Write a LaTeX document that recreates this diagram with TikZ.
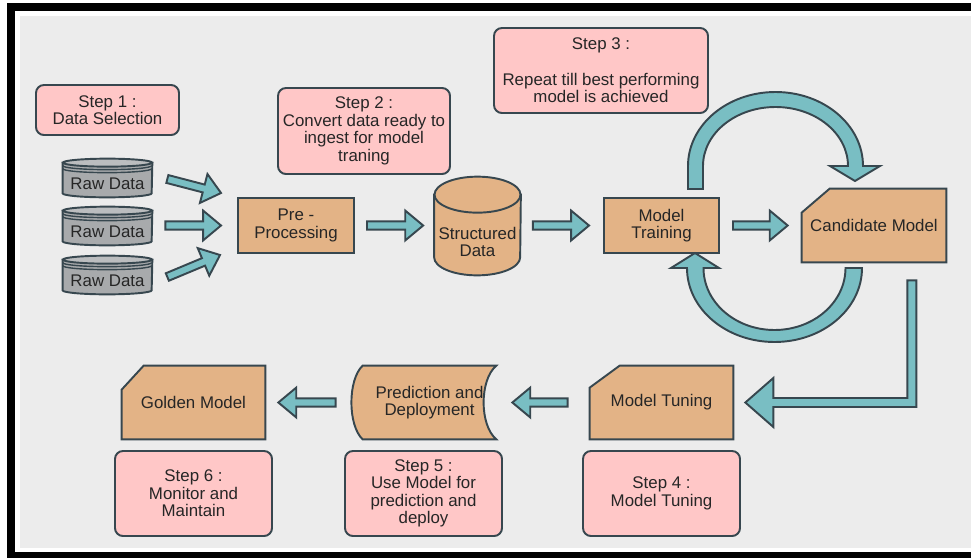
\documentclass[tikz,border=0pt]{standalone}
\usepackage{fontspec}
\setmainfont{Liberation Sans}
\usetikzlibrary{calc,positioning}
\pgfdeclarelayer{back}
\pgfsetlayers{back,main}
\definecolor{bgC}{HTML}{ECECEC}
\definecolor{lineC}{HTML}{37474F}
\definecolor{pinkC}{HTML}{FFC7C7}
\definecolor{tanC}{HTML}{E3B386}
\definecolor{tealC}{HTML}{79BEC3}
\definecolor{grayC}{HTML}{A8AAAC}
\definecolor{grayT}{HTML}{BBBDBF}
\definecolor{textC}{HTML}{262626}
\def\u{0.02cm}
\tikzset{
  every node/.style={font=\fontsize{9.6}{10}\selectfont, text=textC, align=center, inner sep=0pt},
  stepbox/.style={draw=lineC, fill=pinkC, line width=1.1pt, rounded corners=4.5pt},
  tanbox/.style={draw=lineC, fill=tanC, line width=1.1pt},
  shapeline/.style={draw=lineC, line width=1.1pt},
  rawdb/.style={minimum width=89*\u, minimum height=26*\u},
  arrowshape/.style={draw=lineC, fill=tealC, line width=1.1pt, line join=miter},
  blockarrow/.style={arrowshape, to path={
    ($(\tikztostart)!2.3pt!90:(\tikztotarget)$)
    -- ($(\tikztotarget)!10.2pt!(\tikztostart)!2.3pt!-90:(\tikztostart)$)
    -- ($(\tikztotarget)!10.2pt!(\tikztostart)!8.5pt!-90:(\tikztostart)$)
    -- (\tikztotarget)
    -- ($(\tikztotarget)!10.2pt!(\tikztostart)!8.5pt!90:(\tikztostart)$)
    -- ($(\tikztotarget)!10.2pt!(\tikztostart)!2.3pt!90:(\tikztostart)$)
    -- ($(\tikztostart)!2.3pt!-90:(\tikztotarget)$)
    -- cycle}}
}
% small grey disk stack
\newcommand\rawcyl[1]{%
  \begin{pgfonlayer}{back}
  \path[shapeline, fill=grayC] ($(#1.north west)+(0,-8)$) -- ($(#1.south west)+(0,-4)$)
    arc[start angle=180, end angle=0, x radius=44.5, y radius=4] -- ($(#1.north east)+(0,-8)$) -- cycle;
  \path[shapeline, fill=grayT] ($(#1.north)+(0,-8)$) ellipse[x radius=44.5, y radius=4];
  \draw[lineC, line width=0.8pt] ($(#1.north west)+(0,-5)$) arc[start angle=180, end angle=0, x radius=44.5, y radius=4];
  \draw[lineC, line width=0.8pt] ($(#1.north west)+(0,-2)$) arc[start angle=180, end angle=0, x radius=44.5, y radius=4];
  \end{pgfonlayer}}
% card with cut corner
\newcommand\chambox[3]{%
  \begin{pgfonlayer}{back}
  \path[tanbox] ($(#1.north west)+(0,#3)$) -- ($(#1.north west)+(#2,0)$) -- (#1.north east)
    -- (#1.south east) -- (#1.south west) -- cycle;
  \end{pgfonlayer}}
\begin{document}
\begin{tikzpicture}[x=\u, y=-\u]
\useasboundingbox (0,0) rectangle (971,558);
\begin{pgfonlayer}{back}
\fill[white] (0,0) rectangle (971,558);
\fill[black] (7,3) rectangle (971,558);
\fill[white] (15,11) rectangle (971,552);
\fill[bgC] (20,16) rectangle (971,548);
\end{pgfonlayer}

% top row
\node[stepbox, minimum width=143*\u, minimum height=50*\u] (s1) at (107.5,110) {Step 1 :\\Data Selection};
\node[rawdb] (raw1) at (107.5,184) {Raw Data};
\node[rawdb] (raw2) at (107.5,232) {Raw Data};
\node[rawdb] (raw3) at (107.5,281) {Raw Data};
\foreach \n in {raw1,raw2,raw3} {\rawcyl{\n}}
\node[tanbox, minimum width=116*\u, minimum height=55*\u] (pre) at (296,225.5) {Pre -\\Processing};
\node[stepbox, minimum width=172*\u, minimum height=86*\u] (s2) at (364,131) {Step 2 :\\Convert data ready to\\ingest for model\\traning};
\node[minimum width=86*\u, minimum height=66*\u] (sd) at (477.5,242) {Structured\\Data};
\begin{pgfonlayer}{back}
\path[tanbox] ($(sd.north west)+(0,-14)$) -- ($(sd.south west)+(0,-18)$)
  arc[start angle=180, end angle=0, x radius=43, y radius=18] -- ($(sd.north east)+(0,-14)$) -- cycle;
\path[tanbox] ($(sd.north)+(0,-14)$) ellipse[x radius=43, y radius=18];
\end{pgfonlayer}
\node[tanbox, minimum width=115*\u, minimum height=55*\u] (train) at (661.5,225.5) {Model\\Training};
\node[minimum width=144*\u, minimum height=73*\u] (cand) at (874,225.5) {Candidate Model};
\chambox{cand}{28}{24}
\node[stepbox, minimum width=214*\u, minimum height=85*\u] (s3) at (601,70.5) {Step 3 :\\[10pt]Repeat till best performing\\model is achieved};

% bottom row
\node[minimum width=143*\u, minimum height=73*\u] (tune) at (661.5,402.5) {Model Tuning};
\chambox{tune}{30}{22}
\node[stepbox, minimum width=157*\u, minimum height=85*\u] (s4) at (661.5,493.5) {Step 4 :\\Model Tuning};
\node[minimum width=133*\u, minimum height=73*\u] (pred) at (429.5,402.5) {Prediction and\\Deployment};
\begin{pgfonlayer}{back}
\path[tanbox] (pred.north west) -- (pred.north east)
  .. controls ($(pred.north east)+(-17,14)$) and ($(pred.south east)+(-17,-14)$) .. (pred.south east)
  -- (pred.south west)
  .. controls ($(pred.south west)+(-15,-14)$) and ($(pred.north west)+(-15,14)$) .. (pred.north west) -- cycle;
\end{pgfonlayer}
\node[stepbox, minimum width=157*\u, minimum height=85*\u] (s5) at (423.5,493.5) {Step 5 :\\Use Model for\\prediction and\\deploy};
\node[minimum width=143*\u, minimum height=73*\u] (gold) at (193.5,402.5) {Golden Model};
\chambox{gold}{22}{24}
\node[stepbox, minimum width=157*\u, minimum height=85*\u] (s6) at (193.5,493.5) {Step 6 :\\Monitor and\\Maintain};

% arrow ends
\coordinate (a1s) at ($(raw1.east)+(15,-5)$);
\coordinate (a1e) at ($(pre.west)+(-16,-32.5)$);
\coordinate (a2s) at ($(raw2.east |- pre.west)+(13,0)$);
\coordinate (a2e) at ($(pre.west)+(-16,0)$);
\coordinate (a3s) at ($(raw3.east)+(15,-4)$);
\coordinate (a3e) at ($(pre.west)+(-17,29.5)$);
\coordinate (a4s) at ($(pre.east)+(12,0)$);
\coordinate (a4e) at ($(sd.west |- pre.east)+(-11,0)$);
\coordinate (a5s) at ($(sd.east |- train.west)+(12,0)$);
\coordinate (a5e) at ($(train.west)+(-14,0)$);
\coordinate (a6s) at ($(train.east)+(13,0)$);
\coordinate (a6e) at ($(cand.west)+(-14,0)$);
\coordinate (a7s) at ($(tune.west)+(-22,0)$);
\coordinate (a7e) at ($(pred.east)+(16,0)$);
\coordinate (a8s) at ($(pred.west)+(-27,0)$);
\coordinate (a8e) at ($(gold.east)+(13,0)$);
\foreach \i in {1,...,8} {\draw[blockarrow] (a\i s) to (a\i e);}

% training loop
\coordinate (topc) at (775.5,166);
\coordinate (botc) at (774.5,268);
\begin{scope}[shift={(topc)}]
\draw[arrowshape] (-87.5,23) -- (-87.5,0) arc[start angle=180, end angle=360, x radius=87.5, y radius=74]
  -- (104.5,0) -- (79.5,15) -- (54.5,0) -- (72.5,0)
  arc[start angle=0, end angle=-180, x radius=72.5, y radius=59] -- (-72.5,23) -- cycle;
\end{scope}
\begin{scope}[shift={(botc)}]
\draw[arrowshape] (71,0) -- (87.5,0) arc[start angle=0, end angle=180, x radius=87.5, y radius=74]
  -- (-103.5,0) -- (-79.5,-15) -- (-55.5,0) -- (-71,0)
  arc[start angle=180, end angle=0, x radius=71, y radius=62] -- cycle;
\end{scope}

% down to tuning
\coordinate (ltop) at ($(cand.south east)+(-34.5,18)$);
\coordinate (ltip) at ($(tune.east)+(12,0)$);
\draw[arrowshape] ($(ltop)+(-4.5,0)$) -- ($(ltop)+(4.5,0)$) -- ($(ltop |- ltip)+(4.5,4.5)$)
  -- ($(ltip)+(28,4.5)$) -- ($(ltip)+(28,24.5)$) -- (ltip) -- ($(ltip)+(28,-24.5)$)
  -- ($(ltip)+(28,-4.5)$) -- ($(ltop |- ltip)+(-4.5,-4.5)$) -- cycle;
\end{tikzpicture}
\end{document}
